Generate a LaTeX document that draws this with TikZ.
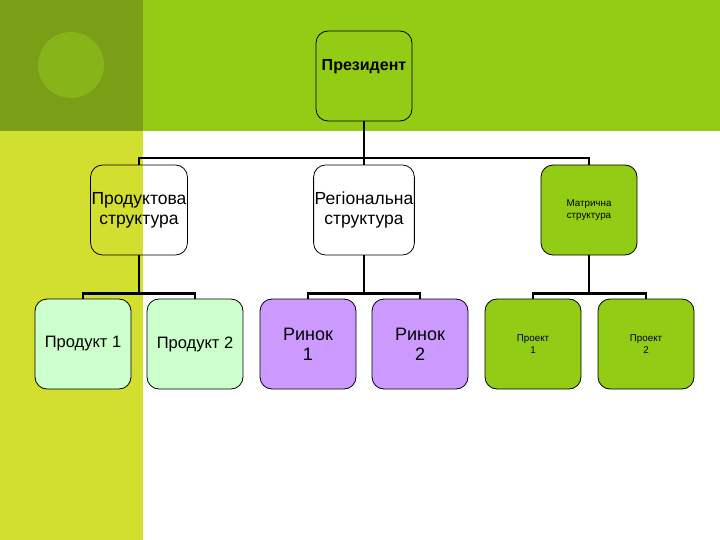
\documentclass[tikz,border=0pt]{standalone}
\usepackage{fontspec}
\setmainfont{Liberation Sans}
\definecolor{topgreen}{HTML}{92CC14}
\definecolor{darksq}{HTML}{7A9F16}
\definecolor{circ}{HTML}{87B418}
\definecolor{lime}{HTML}{D3DF2E}
\definecolor{lightgr}{HTML}{CCFFCC}
\definecolor{lilac}{HTML}{CC99FF}
\definecolor{boxgreen}{HTML}{92CC14}
\begin{document}
\begin{tikzpicture}[x=1pt,y=-1pt,
  box/.style={draw=black, line width=0.8pt, rounded corners=12pt, minimum width=96pt, minimum height=90pt, align=center, inner sep=1pt},
  conn/.style={line width=2.2pt},
  big/.style={font=\fontsize{17.5}{20}\selectfont},
  mid/.style={font=\fontsize{16.5}{20}\selectfont},
  rin/.style={font=\fontsize{18}{20}\selectfont},
  small/.style={font=\fontsize{9.8}{12.5}\selectfont},
  lbl/.style={inner sep=0pt, align=center}]
\useasboundingbox (0,0) rectangle (720,540);
% background
\fill[white] (0,0) rectangle (720,540);
\fill[topgreen] (0,0) rectangle (720,131);
\fill[lime] (0,131) rectangle (143,540);
\fill[darksq] (0,0) rectangle (143,131);
\fill[circ] (71,65) circle (33);
% nodes
\node[box] (pres) at (364,76) {};
\node[lbl, font=\bfseries\fontsize{16}{18}\selectfont] (prest) at (364,67) {Президент};
\node[box, big] (prod) at (139,210) {Продуктова\\структура};
\node[box, big] (reg) at (364,210) {Регіональна\\структура};
\node[box, small, fill=boxgreen] (mat) at (589,210) {Матрична\\структура};
\node[box, mid, fill=lightgr] (p1) at (83,344) {Продукт 1};
\node[box, mid, fill=lightgr] (p2) at (195,344) {Продукт 2};
\node[box, rin, fill=lilac] (r1) at (308,344) {Ринок\\1};
\node[box, rin, fill=lilac] (r2) at (420,344) {Ринок\\2};
\node[box, small, fill=boxgreen] (j1) at (533,344) {Проект\\1};
\node[box, small, fill=boxgreen] (j2) at (646,344) {Проект\\2};
% connectors
\coordinate (b0) at (364,158);
\draw[conn] (pres.south) -- (b0);
\draw[conn] (prod.north) |- (b0) -| (mat.north);
\draw[conn] (b0) -- (reg.north);
\draw[conn] (prod.south) -- ++(0,38) coordinate (b1);
\draw[conn] (p1.north) |- (b1) -| (p2.north);
\draw[conn] (reg.south) -- ++(0,38) coordinate (b2);
\draw[conn] (r1.north) |- (b2) -| (r2.north);
\draw[conn] (mat.south) -- ++(0,38) coordinate (b3);
\draw[conn] (j1.north) |- (b3) -| (j2.north);
\end{tikzpicture}
\end{document}
